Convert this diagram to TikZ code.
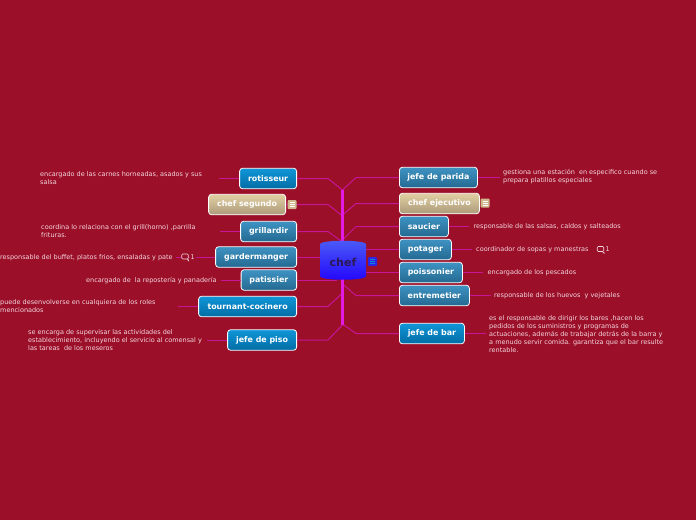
\documentclass[tikz,border=0pt]{standalone}
\usepackage{fontspec}
\setmainfont{DejaVu Sans}
\usetikzlibrary{calc,shapes.geometric}
\definecolor{bgred}{RGB}{155,15,41}
\definecolor{trunkpink}{RGB}{226,26,226}
\definecolor{branchpink}{RGB}{196,22,150}
\definecolor{notepink}{RGB}{243,214,222}
\tikzset{
  topic/.style     = {draw=white, line width=0.8pt, rounded corners=3pt, inner sep=0pt,
                      minimum height=20.5pt, text=white,
                      font=\fontsize{7.9}{10}\selectfont\bfseries},
  paletopic/.style = {topic, top color={rgb,255:red,62;green,146;blue,194}, bottom color={rgb,255:red,36;green,106;blue,146}},
  brighttopic/.style = {topic, top color={rgb,255:red,16;green,150;blue,216}, bottom color={rgb,255:red,2;green,108;blue,164}},
  tantopic/.style  = {topic, top color={rgb,255:red,226;green,208;blue,164}, bottom color={rgb,255:red,172;green,154;blue,122}},
  note/.style      = {text=notepink, inner sep=0pt, align=left,
                      font=\fontsize{6.5}{8.1}\selectfont},
  branch/.style    = {draw=branchpink, line width=1pt},
  leaf/.style      = {draw=branchpink, line width=0.9pt},
  trunk/.style     = {draw=trunkpink, line width=3pt},
  noteicon/.style  = {rounded corners=1pt, minimum size=9pt, inner sep=0pt},
  bubble/.style    = {draw=notepink, fill=bgred, line width=0.6pt, rounded corners=1pt,
                      minimum width=6.5pt, minimum height=5pt, inner sep=0pt},
}

\begin{document}
\begin{tikzpicture}[x=1pt,y=-1pt]
  \fill[bgred] (0,0) rectangle (696,520);
  \useasboundingbox (0,0) rectangle (696,520);

  % ---- topics, left side --------------------------------------------------
  \node[brighttopic,anchor=east,minimum width=57pt] (rotisseur) at (297,178.5) {rotisseur};
  \node[tantopic,anchor=east,minimum width=77pt] (segundo) at (286,204.5) {chef segundo};
  \node[paletopic,anchor=east,minimum width=56pt] (grillardir) at (297,231.5) {grillardir};
  \node[paletopic,anchor=east,minimum width=81pt] (gardermanger) at (297,257) {gardermanger};
  \node[paletopic,anchor=east,minimum width=55.5pt] (patissier) at (297,280) {patissier};
  \node[brighttopic,anchor=east,minimum width=98pt] (tournant) at (297,306.5) {tournant-cocinero};
  \node[brighttopic,anchor=east,minimum width=69pt] (piso) at (297,340) {jefe de piso};

  % ---- topics, right side -------------------------------------------------
  \node[paletopic,anchor=west,minimum width=78pt] (parida) at (399,177.5) {jefe de parida};
  \node[tantopic,anchor=west,minimum width=80pt] (ejecutivo) at (399,203.5) {chef ejecutivo};
  \node[paletopic,anchor=west,minimum width=49pt] (saucier) at (399,226.5) {saucier};
  \node[paletopic,anchor=west,minimum width=52pt] (potager) at (399,249.5) {potager};
  \node[paletopic,anchor=west,minimum width=63pt] (poissonier) at (399,272.5) {poissonier};
  \node[paletopic,anchor=west,minimum width=70pt] (entremetier) at (399,295.5) {entremetier};
  \node[brighttopic,anchor=west,minimum width=65pt] (bar) at (399,333.5) {jefe de bar};

  % ---- trunk and branches -------------------------------------------------
  \coordinate (trunk top) at (342.5,190);
  \coordinate (trunk end) at (342.5,325);
  \foreach \name/\ytrunk in {rotisseur/190,grillardir/242,tournant/293,piso/325}
    \draw[branch] (\name.east) -- ++(31,0) -- (342.5,\ytrunk);
  \draw[branch] (segundo.east) -- ++(42,0) -- (342.5,216);
  \foreach \name/\ytrunk in {parida/190,ejecutivo/215,saucier/240,entremetier/284,bar/324}
    \draw[branch] (\name.west) -- ++(-43,0) -- (342.5,\ytrunk);
  \foreach \name/\len in {gardermanger/-30,patissier/-40}
    \draw[branch] (\name.east) -- ++(-\len,0);
  \foreach \name/\len in {potager/35,poissonier/35}
    \draw[branch] (\name.west) -- ++(-\len,0);
  \draw[trunk] (trunk top) -- (trunk end);

  % ---- central cylinder ---------------------------------------------------
  \node[cylinder, shape border rotate=90, aspect=0.25, minimum width=46pt, minimum height=39pt,
        inner sep=0pt, top color={rgb,255:red,74;green,90;blue,246}, bottom color={rgb,255:red,36;green,8;blue,252},
        text={rgb,255:red,44;green,24;blue,84}, font=\fontsize{11}{13}\selectfont\bfseries]
        (chef) at (343,262) {chef};

  % ---- note texts ---------------------------------------------------------
  \node[note,anchor=west] (rotisseur text) at (40,178.5)
    {encargado de las carnes horneadas, asados y sus\\salsa};
  \node[note,anchor=west] (grillardir text) at (41,231)
    {coordina lo relaciona con el grill(horno) ,parrilla\\frituras.};
  \node[note,anchor=west] (gardermanger text) at (0,257.5)
    {responsable del buffet, platos frios, ensaladas y pate};
  \node[note,anchor=west] (patissier text) at (86,280.5)
    {encargado de\ \ la repostería y panadería};
  \node[note,anchor=west] (tournant text) at (0,306.5)
    {puede desenvolverse en cualquiera de los roles\\mencionados};
  \node[note,anchor=west] (piso text) at (28,340)
    {se encarga de supervisar las actividades del\\establecimiento, incluyendo el servicio al comensal y\\las tareas\ \ de los meseros};
  \node[note,anchor=west] (parida text) at (503,176.5)
    {gestiona una estación\ \ en especifico cuando se\\prepara platillos especiales};
  \node[note,anchor=west] (saucier text) at (473.5,226.5)
    {responsable de las salsas, caldos y salteados};
  \node[note,anchor=west] (potager text) at (476,249.5)
    {coordinador de sopas y manestras};
  \node[note,anchor=west] (poissonier text) at (487.5,272.5)
    {encargado de los pescados};
  \node[note,anchor=west] (entremetier text) at (494,295.5)
    {responsable de los huevos\ \ y vejetales};
  \node[note,anchor=west] (bar text) at (489,334)
    {es el responsable de dirigir los bares ,hacen los\\pedidos de los suministros y programas de\\actuaciones, además de trabajar detrás de la barra y\\a menudo servir comida. garantiza que el bar resulte\\rentable.};

  % ---- short lines toward the notes ---------------------------------------
  \foreach \name/\len in {rotisseur/20,grillardir/20,gardermanger/39,patissier/20,tournant/20,piso/20} {
    \path (\name.west) ++(-\len,0) coordinate (\name end);
    \draw[leaf] (\name.west) -- (\name end);
  }
  \foreach \name/\len in {parida/22,saucier/20,potager/20,poissonier/20,entremetier/21,bar/21} {
    \path (\name.east) ++(\len,0) coordinate (\name end);
    \draw[leaf] (\name.east) -- (\name end);
  }

  % ---- comment marks ------------------------------------------------------
  \node[note,fill=bgred,anchor=west,inner xsep=1pt] (garder count) at (189.5,257.5) {1};
  \node[bubble] (garder bubble) at (185,256.5) {};
  \node[note,anchor=west] (potager count) at (605.5,249.5) {1};
  \node[bubble] (potager bubble) at (600.5,249) {};
  \foreach \mark in {garder bubble,potager bubble}
    \draw[notepink,line width=0.6pt] (\mark.south east) ++(-1.5,0) -- ++(1.5,1.5) -- ++(0,-1.5);

  % ---- note marks ---------------------------------------------------------
  \node[noteicon,fill={rgb,255:red,208;green,184;blue,140}] (segundo mark) at (292,204.5) {};
  \node[noteicon,fill={rgb,255:red,208;green,184;blue,140}] (ejecutivo mark) at (485,203) {};
  \node[noteicon,fill={rgb,255:red,44;green,36;blue,232}] (chef mark) at (372.5,261.5) {};
  \foreach \mark/\ink in {segundo mark/white,ejecutivo mark/white,chef mark/cyan!70!blue}
    \foreach \dy in {-2,0,2}
      \draw[\ink,line width=0.7pt] ($(\mark)+(-2.5,\dy)$) -- ($(\mark)+(2.5,\dy)$);
\end{tikzpicture}
\end{document}
